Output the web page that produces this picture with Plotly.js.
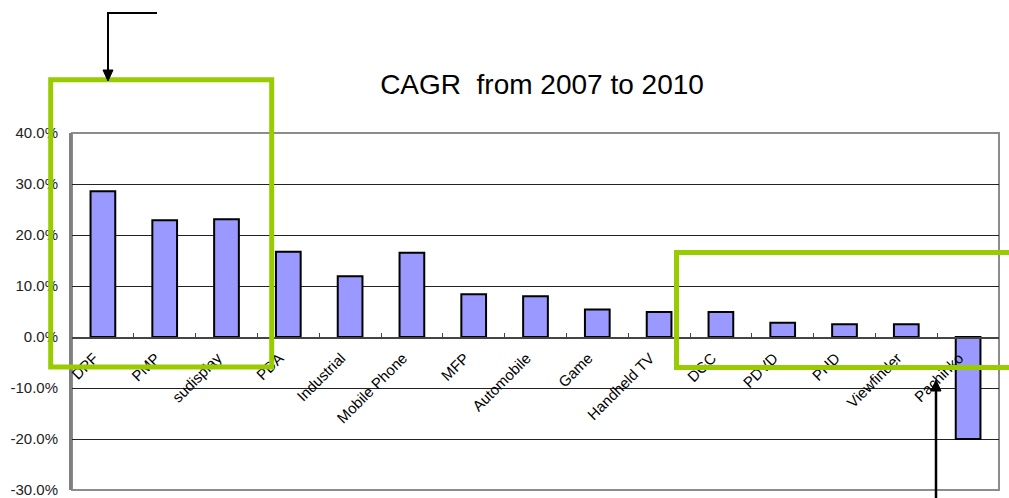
<!DOCTYPE html>
<html>
<head>
<meta charset="utf-8">
<script src="https://cdn.plot.ly/plotly-3.0.1.min.js"></script>
<style>
html,body{margin:0;padding:0;background:#fff;}
#chart{width:1009px;height:498px;}
</style>
</head>
<body>
<div id="chart"></div>
<script>
// ---- data ----
const categories = ["DPF","PMP","sudisplay","PDA","Industrial","Mobile Phone","MFP","Automobile","Game","Handheld TV","DGC","PDVD","PHD","Viewfinder","Pachinko"];
const cagrValues = [28.6, 22.9, 23.1, 16.7, 11.9, 16.5, 8.4, 8.0, 5.4, 4.9, 4.9, 2.8, 2.5, 2.5, -20.0];
const yTickValues = [-30, -20, -10, 0, 10, 20, 30, 40];
const yTickLabels = ["-30.0%", "-20.0%", "-10.0%", "0.0%", "10.0%", "20.0%", "30.0%", "40.0%"];
const chartTitle = "CAGR\u00a0 from 2007 to 2010";

// ---- layout helpers (page pixels -> paper fractions) ----
const W = 1009, H = 498;
const M = {l: 72, r: 10, t: 133, b: 8};
const PW = W - M.l - M.r, PH = H - M.t - M.b;
const px = v => (v - M.l) / PW;
const py = v => (H - M.b - v) / PH;
const yMin = -30, yMax = 40;

const green = "#99CC00";
function pathOf(points, close) {
  return points.map((p, i) => (i ? "L" : "M") + px(p[0]).toFixed(5) + "," + py(p[1]).toFixed(5)).join(" ") + (close ? " Z" : "");
}

const shapes = [
  // plot frame
  {type: "rect", xref: "paper", yref: "paper", x0: 0, x1: 1, y0: 0, y1: 1,
   line: {color: "#8c8c8c", width: 2}, layer: "below"},
  // green highlight boxes
  {type: "rect", xref: "paper", yref: "paper", x0: px(50.7), x1: px(271.7), y0: py(367), y1: py(79.7),
   line: {color: green, width: 5}},
  {type: "rect", xref: "paper", yref: "paper", x0: px(676.5), x1: px(1030), y0: py(367.5), y1: py(252.5),
   line: {color: green, width: 5}},
  // arrow 1 (L-shaped, pointing down)
  {type: "path", xref: "paper", yref: "paper", path: pathOf([[157,13],[108,13],[108,72]], false),
   line: {color: "#000", width: 2}},
  {type: "path", xref: "paper", yref: "paper", path: pathOf([[103,70],[113,70],[108,81]], true),
   fillcolor: "#000", line: {color: "#000", width: 1}},
  // arrow 2 (vertical, pointing up)
  {type: "path", xref: "paper", yref: "paper", path: pathOf([[936,505],[936,389]], false),
   line: {color: "#000", width: 2.5}},
  {type: "path", xref: "paper", yref: "paper", path: pathOf([[931,391],[941,391],[936,380]], true),
   fillcolor: "#000", line: {color: "#000", width: 1}}
];

const data = [{
  type: "bar",
  x: categories,
  y: cagrValues,
  marker: {color: "#9999FF", line: {color: "#000", width: 2}},
  hoverinfo: "x+y"
}];

const layout = {
  width: W, height: H,
  margin: {l: M.l, r: M.r, t: M.t, b: M.b, pad: 0},
  paper_bgcolor: "#fff", plot_bgcolor: "#fff",
  showlegend: false,
  bargap: 0.6,
  font: {family: "Liberation Sans, Arial, sans-serif", color: "#000"},
  title: {
    text: chartTitle,
    font: {family: "Liberation Sans, Arial, sans-serif", size: 28, color: "#000"},
    xref: "container", yref: "container",
    x: 542 / W, xanchor: "center",
    y: 1 - 84 / H, yanchor: "middle"
  },
  xaxis: {
    type: "category",
    anchor: "free",
    position: (0 - yMin) / (yMax - yMin),
    showline: true, linecolor: "#444", linewidth: 1.5,
    showgrid: false, zeroline: false,
    ticks: "inside", tickson: "boundaries", ticklen: 4, tickwidth: 1, tickcolor: "#444",
    tickangle: -45,
    ticklabelshift: -9, ticklabelstandoff: 5,
    tickfont: {family: "Liberation Sans, Arial, sans-serif", size: 15, color: "#000"},
    fixedrange: true
  },
  yaxis: {
    range: [yMin, yMax],
    tickvals: yTickValues,
    ticktext: yTickLabels,
    showline: true, linecolor: "#808080", linewidth: 3,
    showgrid: true, gridcolor: "#222", gridwidth: 1,
    zeroline: false,
    ticks: "", ticklabelstandoff: 8,
    ticklabeloverflow: "allow",
    tickfont: {family: "Liberation Sans, Arial, sans-serif", size: 15, color: "#222"},
    fixedrange: true
  },
  shapes: shapes
};

Plotly.newPlot("chart", data, layout, {displayModeBar: false, staticPlot: true});
</script>
</body>
</html>
